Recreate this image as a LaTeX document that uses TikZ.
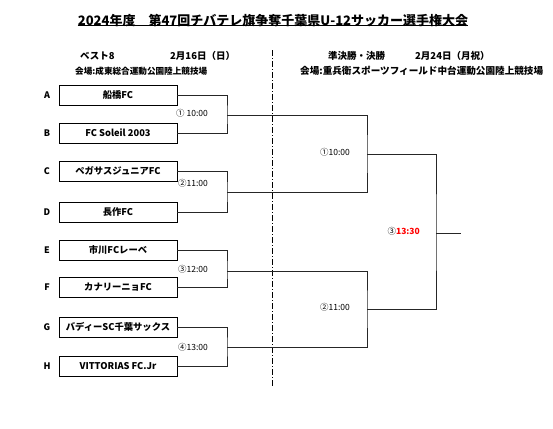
\documentclass[tikz,border=0pt]{standalone}
\usepackage{fontspec}
\setmainfont{Noto Sans CJK JP}
\begin{document}
\begin{tikzpicture}[x=1pt,y=-1pt,
  team/.style={draw=black,line width=0.7pt,minimum width=118pt,minimum height=20pt,inner sep=0pt,font=\fontsize{9.3}{10}\selectfont\bfseries},
  letter/.style={font=\fontsize{9}{10}\selectfont\bfseries},
  tlabel/.style={anchor=east,inner sep=0pt,font=\fontsize{8.5}{9}\selectfont},
  hdr/.style={anchor=west,inner sep=0pt,font=\fontsize{9.5}{10}\selectfont\bfseries},
  venue/.style={anchor=west,inner sep=0pt,font=\fontsize{8.6}{9}\selectfont\bfseries},
  br/.style={line width=0.8pt,black!85}]
\useasboundingbox (0,0) rectangle (553,428);
\clip (0,0) rectangle (553,428);
% title
\node[inner sep=0pt,font=\fontsize{13}{15}\selectfont\bfseries] (title) at (273,21) {2024年度　第47回チバテレ旗争奪千葉県U-12サッカー選手権大会};
\draw[line width=0.7pt] (title.south west) ++(0,-2) coordinate (ul1) -- (title.south east |- ul1);
% headers
\node[hdr] (h1) at (80,56) {ベスト8};
\node[hdr] (h2) at (170,56) {2月16日（日）};
\node[venue] (v1) at (75,71) {会場:成東総合運動公園陸上競技場};
\node[hdr] (h3) at (328,56) {準決勝・決勝};
\node[hdr] (h4) at (415,56) {2月24日（月祝）};
\node[venue,font=\fontsize{9.6}{10}\selectfont\bfseries] (v2) at (300,71) {会場:重兵衛スポーツフィールド中台運動公園陸上競技場};
% divider
\coordinate (d1) at (272,50);
\coordinate (d2) at (272,386);
\draw[line width=0.6pt,dash pattern=on 6pt off 2pt on 1pt off 2pt] (d1) -- (d2);
% teams
\node[team] (a) at (118,95) {船橋FC};
\node[team] (b) at (118,133) {FC Soleil 2003};
\node[team] (c) at (118,171) {ペガサスジュニアFC};
\node[team] (d) at (118,212) {長作FC};
\node[team] (e) at (118,250) {市川FCレーベ};
\node[team] (f) at (118,287) {カナリーニョFC};
\node[team] (g) at (118,327) {バディーSC千葉サックス};
\node[team] (h) at (118,366) {VITTORIAS FC.Jr};
\foreach \n/\L in {a/A,b/B,c/C,d/D,e/E,f/F,g/G,h/H}
  \node[letter] (l\n) at (47,0 |- \n) {\L};
% junctions
\coordinate (m1) at (227,115);
\coordinate (m2) at (227,192);
\coordinate (m3) at (227,271);
\coordinate (m4) at (227,347);
\coordinate (s1) at (367,154);
\coordinate (s2) at (367,309);
\coordinate (fn) at (436,233);
\coordinate (ch) at (461,233);
% first round
\draw[br] (a.east) -| (m1) |- (b.east);
\draw[br] (c.east) -| (m2) |- (d.east);
\draw[br] (e.east) -| (m3) |- (f.east);
\draw[br] (g.east) -| (m4) |- (h.east);
% semis
\draw[br] (m1) -| (s1) |- (m2);
\draw[br] (m3) -| (s2) |- (m4);
% final
\draw[br] (s1) -| (fn) |- (s2);
\draw[br] (fn) -- (ch);
% time labels
\node[tlabel] (t1) at (208,113) {① 10:00};
\node[tlabel] (t2) at (208,183) {②11:00};
\node[tlabel] (t3) at (208,269) {③12:00};
\node[tlabel] (t4) at (208,347) {④13:00};
\node[tlabel] (t5) at (350,152) {①10:00};
\node[tlabel] (t6) at (350,307) {②11:00};
\node[tlabel] (t7) at (420,231) {③\textcolor{red}{\bfseries 13:30}};
\end{tikzpicture}
\end{document}
